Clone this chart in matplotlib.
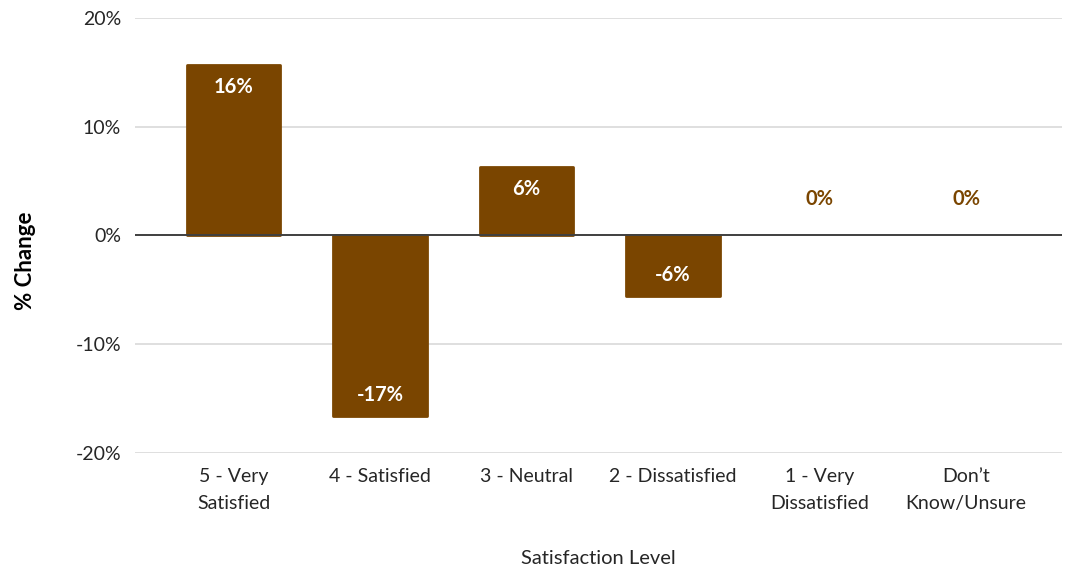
import matplotlib
matplotlib.use("Agg")
import matplotlib.pyplot as plt
from matplotlib.ticker import FuncFormatter

plt.rcParams['font.family'] = ['Lato', 'DejaVu Sans']

categories = ["5 - Very\nSatisfied", "4 - Satisfied", "3 - Neutral",
              "2 - Dissatisfied", "1 - Very\nDissatisfied", "Don\u2019t\nKnow/Unsure"]
pct_change = [0.157, -0.166, 0.063, -0.056, 0.0, 0.0]
y_ticks = [-0.2, -0.1, 0.0, 0.1, 0.2]

BAR = "#7A4500"

fig = plt.figure(figsize=(10.72, 5.69), dpi=100)
ax = fig.add_axes([0.126, 0.2039, 0.8647, 0.7645])

x = list(range(len(categories)))
bars = ax.bar(x, pct_change, width=0.64, color=BAR, edgecolor=BAR,
              linewidth=2, zorder=3)
# slightly rounded corners on the visible bars; empty bars get no outline
for b, v in zip(bars, pct_change):
    b.set_joinstyle('round')
    if v == 0:
        b.set_linewidth(0)

ax.set_xlim(-0.672, 5.655)
ax.set_ylim(-0.2, 0.2)
ax.set_yticks(y_ticks)
ax.yaxis.set_major_formatter(FuncFormatter(lambda v, _: f"{v * 100:.0f}%"))
ax.grid(axis='y', color='#d9d9d9', linewidth=1.2, zorder=0)
ax.axhline(0, color='#404040', linewidth=1.4, zorder=4)

for s in ax.spines.values():
    s.set_visible(False)
ax.tick_params(axis='both', length=0, labelsize=14, colors='#262626')
ax.tick_params(axis='y', pad=10)
ax.tick_params(axis='x', pad=11)
ax.set_xticks(x)
ax.set_xticklabels(categories, linespacing=1.72)

for xi, v in zip(x, pct_change):
    label = f"{round(v * 100):.0f}%"
    if v > 0:
        ax.annotate(label, (xi, v), xytext=(0, -22), textcoords='offset pixels',
                    ha='center', va='center', color='white', fontsize=14.5,
                    fontweight='bold', zorder=5)
    elif v < 0:
        ax.annotate(label, (xi, v), xytext=(0, 21), textcoords='offset pixels',
                    ha='center', va='center', color='white', fontsize=14.5,
                    fontweight='bold', zorder=5)
    else:
        ax.annotate(label, (xi, v), xytext=(0, 36), textcoords='offset pixels',
                    ha='center', va='center', color=BAR, fontsize=14.5,
                    fontweight='bold', zorder=5)

fig.text(598 / 1072, 1 - 558 / 569, "Satisfaction Level", ha='center', va='center',
         fontsize=14.5, color='#262626')
fig.text(25 / 1072, 1 - 261 / 569, "% Change", ha='center', va='center',
         rotation=90, fontsize=16, fontweight='bold', color='#000000')

fig.savefig("out.png", dpi=100)
